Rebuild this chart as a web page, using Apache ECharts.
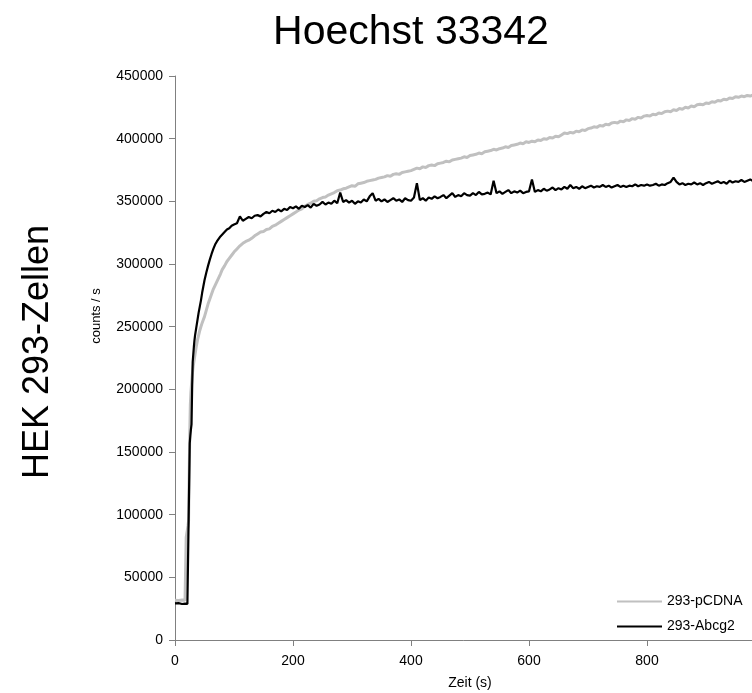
<!DOCTYPE html>
<html>
<head>
<meta charset="utf-8">
<script src="https://cdn.jsdelivr.net/npm/echarts@6/dist/echarts.min.js"></script>
<style>
html,body{margin:0;padding:0;background:#fff;}
#chart{width:752px;height:693px;}
</style>
</head>
<body>
<div id="chart"></div>
<script>
// Time stamps (s)
var timeS = [
  0,3,6,9,12,15,17,18,
  19,20,21,22,23,24,25,26,27,28,29,30,31,32,33,34,
  36,38,40,42,44,46,48,50,
  53,56,59,62,65,68,71,74,77,80,
  84,88,92,96,100,
  105,110,115,120,125,130,135,140,145,150,
  155,160,165,170,175,180,185,190,195,200,
  205,210,215,220,225,230,235,240,245,250,
  255,260,265,270,275,280,285,290,295,300,
  305,310,315,320,325,330,335,340,345,350,
  355,360,365,370,375,380,385,390,395,400,
  405,410,415,420,425,430,435,440,445,450,
  455,460,465,470,475,480,485,490,495,500,
  505,510,515,520,525,530,535,540,545,550,
  555,560,565,570,575,580,585,590,595,600,
  605,610,615,620,625,630,635,640,645,650,
  655,660,665,670,675,680,685,690,695,700,
  705,710,715,720,725,730,735,740,745,750,
  755,760,765,770,775,780,785,790,795,800,
  805,810,815,820,825,830,835,840,845,850,
  855,860,865,870,875,880,885,890,895,900,
  905,910,915,920,925,930,935,940,945,950,
  955,960,965,970,975,980
];

// 293-pCDNA (grey) counts / s
var pcdna = [
  31800,32200,31600,32000,31900,32300,31700,32000,
  82000,85000,88000,91000,95000,130000,165000,188000,198000,204000,210000,215000,219000,222000,225000,228000,
  234000,239000,243000,247000,250000,253000,255500,258000,
  263000,268000,272000,276000,280000,283000,286000,289000,292000,295500,
  298500,302000,304500,307000,309500,
  312000,314500,316500,318000,319000,320500,322500,324000,325500,326000,
  327500,328000,330000,331000,332500,334000,335500,337000,338500,340000,
  341500,343000,344000,346000,347500,348500,350000,350500,352000,353000,
  353500,355000,356000,357000,358500,359000,360000,360500,361500,362500,
  362000,364000,364500,365000,366000,366500,367000,367500,368500,369000,
  369500,370500,370000,371500,372000,371500,373000,373500,374000,374500,
  375500,376500,376000,377500,377000,378500,379000,378500,380000,380500,
  381000,382000,381500,383000,383500,384000,384500,385500,385000,386500,
  387000,387500,388500,388000,389500,390000,390500,391500,391000,392000,
  392500,393500,393000,394500,395000,395500,396500,396000,397500,397000,
  398000,397500,399000,398500,400000,399500,401000,400500,402000,401500,
  403000,404500,404000,405000,404500,406000,405500,407000,406500,408000,
  408500,409500,409000,410500,410000,411500,411000,412500,413000,412500,
  414000,413500,415000,414500,416000,415500,417000,416500,418000,418500,
  418000,419500,419000,420500,420000,421500,422000,421500,423000,422500,
  424000,423500,425000,424500,426000,425500,427000,427500,427000,428500,
  428000,429500,429000,430500,430000,431500,431000,432500,432000,433500,
  433000,434000,433500,434500,434000,435000
];

// 293-Abcg2 (black) counts / s
var abcg2 = [
  29200,28800,29400,29000,28700,29300,29000,28900,
  29100,29300,28800,29000,29200,28900,157000,163000,168000,172000,200000,222000,228000,234000,239000,243000,
  249000,255000,261000,266000,271000,277000,282000,287000,
  293000,298500,303500,308000,312000,315500,318000,320000,322000,323500,
  325500,327500,328500,330500,331500,
  332500,338000,334500,336000,337500,336500,338500,339000,338000,340000,
  341500,340500,342500,341500,343500,342000,344000,343000,345500,344500,
  346000,344000,346500,345500,347000,345000,348000,346500,347500,349500,
  347500,349000,348000,350500,348500,357000,349500,351000,349000,350500,
  348000,350000,349000,351500,350000,354000,356500,350500,352000,350000,
  351500,349500,351000,352500,350500,351500,349500,352500,351000,350500,
  353000,364500,351000,352500,350500,353000,352000,354000,352500,353500,
  355000,352500,354500,356500,353500,355000,354000,356500,355000,354500,
  356500,355000,357500,355500,356000,357000,355500,366500,356500,358000,
  356000,357500,359000,356500,358000,357000,358500,356500,357500,358000,
  367500,357500,359000,358000,360000,358500,359500,361000,359000,360500,
  359500,361500,360000,363000,360500,361500,360000,362000,360500,361500,
  362500,361000,362000,361500,363000,361500,362500,361000,362000,363000,
  361500,362500,361500,362500,362000,363500,362000,363000,362500,363500,
  362500,363000,364000,362500,363500,363000,364500,365500,369000,365500,
  363500,364500,363000,364000,363500,365000,363500,364500,363000,364500,
  365500,364000,365000,366000,364500,365500,364000,366500,365000,366000,
  365500,367000,365500,366500,367500,366000
];

var seriesNames = ['293-pCDNA', '293-Abcg2'];
var xTicks = [0, 200, 400, 600, 800, 1000];
var yTicks = [0, 50000, 100000, 150000, 200000, 250000, 300000, 350000, 400000, 450000];

var FONT = '"Liberation Sans", Arial, sans-serif';

function pairs(vals) {
  return timeS.map(function (t, i) { return [t, vals[i]]; });
}

var chart = echarts.init(document.getElementById('chart'), null, {renderer: 'canvas'});
chart.setOption({
  animation: false,
  backgroundColor: '#ffffff',
  textStyle: {fontFamily: FONT},
  title: {
    text: 'Hoechst 33342',
    left: 411, top: 12, textAlign: 'center', padding: 0,
    textStyle: {fontFamily: FONT, fontSize: 41, fontWeight: 'normal', color: '#000'}
  },
  graphic: [
    {
      type: 'text', x: 38, y: 352, rotation: Math.PI / 2,
      style: {text: 'HEK 293-Zellen', font: '36px ' + FONT, fill: '#000', align: 'center', verticalAlign: 'middle'}
    },
    {
      type: 'text', x: 96, y: 316, rotation: Math.PI / 2,
      style: {text: 'counts / s', font: '13px ' + FONT, fill: '#000', align: 'center', verticalAlign: 'middle'}
    }
  ],
  legend: {
    orient: 'vertical',
    left: 617, top: 594, padding: 0,
    itemWidth: 45, itemHeight: 2, itemGap: 10,
    icon: 'rect',
    textStyle: {fontFamily: FONT, fontSize: 14, color: '#000', lineHeight: 15},
    data: seriesNames
  },
  grid: {left: 175, top: 76, width: 590, height: 564, containLabel: false, outerBoundsMode: 'none'},
  xAxis: {
    type: 'value', min: xTicks[0], max: xTicks[xTicks.length - 1], interval: 200,
    name: 'Zeit (s)', nameLocation: 'middle', nameGap: 36,
    nameTextStyle: {fontFamily: FONT, fontSize: 14, color: '#000'},
    axisLine: {show: true, lineStyle: {color: '#808080', width: 1}},
    axisTick: {show: true, length: 6, lineStyle: {color: '#808080'}},
    axisLabel: {fontFamily: FONT, fontSize: 14, color: '#000', margin: 14, showMaxLabel: false},
    splitLine: {show: false}
  },
  yAxis: {
    type: 'value', min: yTicks[0], max: yTicks[yTicks.length - 1], interval: 50000,
    axisLine: {show: true, lineStyle: {color: '#808080', width: 1}},
    axisTick: {show: true, length: 6, lineStyle: {color: '#808080'}},
    axisLabel: {fontFamily: FONT, fontSize: 14, color: '#000', margin: 12,
      formatter: function (v) { return String(v); }},
    splitLine: {show: false}
  },
  series: [
    {
      name: seriesNames[0], type: 'line', data: pairs(pcdna),
      symbol: 'none', showSymbol: false, sampling: null,
      lineStyle: {color: '#c0c0c0', width: 3}, itemStyle: {color: '#c0c0c0'},
      z: 2
    },
    {
      name: seriesNames[1], type: 'line', data: pairs(abcg2),
      symbol: 'none', showSymbol: false, sampling: null,
      lineStyle: {color: '#000000', width: 2.2}, itemStyle: {color: '#000000'},
      z: 3
    }
  ]
});
</script>
</body>
</html>
